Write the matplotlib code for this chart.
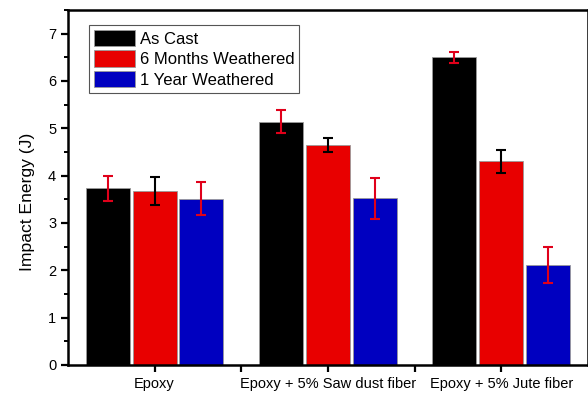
import numpy as np
import matplotlib
matplotlib.use("Agg")
import matplotlib.pyplot as plt
from matplotlib.ticker import MultipleLocator

plt.rcParams['font.family'] = ['Liberation Sans', 'DejaVu Sans']

# data
categories = ['Epoxy', 'Epoxy + 5% Saw dust fiber', 'Epoxy + 5% Jute fiber']
series = ['As Cast', '6 Months Weathered', '1 Year Weathered']
as_cast = [3.73, 5.14, 6.50]
as_cast_err = [0.27, 0.25, 0.12]
six_months = [3.68, 4.64, 4.30]
six_months_err = [0.30, 0.15, 0.25]
one_year = [3.51, 3.52, 2.11]
one_year_err = [0.35, 0.43, 0.38]

values = [as_cast, six_months, one_year]
errors = [as_cast_err, six_months_err, one_year_err]
colors = ['#000000', '#e80000', '#0000c0']
err_colors = ['#e0001a', '#000000', '#e0001a']

fig = plt.figure(figsize=(5.88, 3.95), dpi=100)
ax = fig.add_axes([0.1156, 0.076, 0.884, 0.899])

x = np.arange(1, len(categories) + 1)
width = 0.255
offsets = [-0.27, 0.0, 0.27]
for vals, errs, c, ec, off, name in zip(values, errors, colors, err_colors, offsets, series):
    ax.bar(x + off, vals, width, color=c, edgecolor='#9a9a9a', linewidth=0.6, label=name, zorder=2)
    ax.errorbar(x + off, vals, yerr=errs, fmt='none', ecolor=ec, elinewidth=1.5,
                capsize=3.5, capthick=1.5, zorder=3)

ax.set_xlim(0.5, 3.5)
ax.set_ylim(0, 7.5)
ax.set_xticks(x)
ax.set_xticklabels(categories, fontsize=10.5)
ax.set_xticks([1.5, 2.5], minor=True)
ax.yaxis.set_major_locator(MultipleLocator(1))
ax.yaxis.set_minor_locator(MultipleLocator(0.5))
ax.tick_params(axis='both', which='major', direction='out', length=5, width=1.6, labelsize=10.5)
ax.tick_params(axis='y', which='minor', direction='out', length=3, width=1.4)
ax.tick_params(axis='x', which='minor', direction='out', length=5, width=1.6)
ax.set_ylabel('Impact Energy (J)', fontsize=12.6)
ax.yaxis.set_label_coords(-0.064, 0.46)
for s in ax.spines.values():
    s.set_linewidth(1.8)

leg = ax.legend(loc='upper left', bbox_to_anchor=(0.04, 0.958), fontsize=12,
                handlelength=2.45, handleheight=1.15, labelspacing=0.22,
                handletextpad=0.3, borderpad=0.3, borderaxespad=0,
                fancybox=False, framealpha=1, edgecolor='#555555')
leg.get_frame().set_linewidth(0.8)

fig.savefig('out.png', dpi=100)
